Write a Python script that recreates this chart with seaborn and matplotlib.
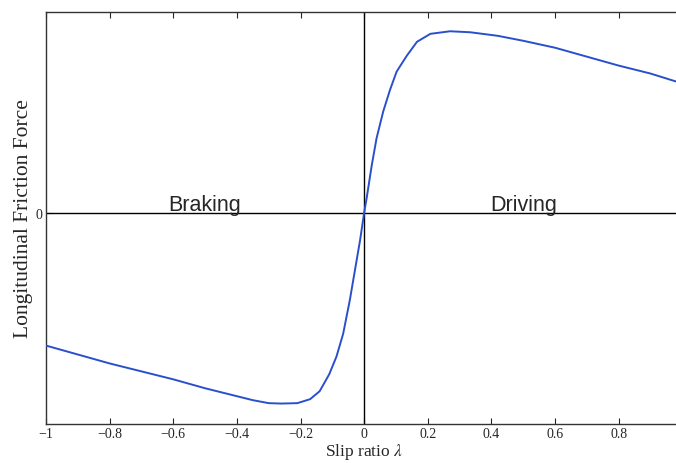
import numpy as np
import pandas as pd
import seaborn as sns
import matplotlib
matplotlib.use("Agg")
import matplotlib.pyplot as plt

# slip ratio and normalised longitudinal friction force
slip = [-1.0, -0.9, -0.8, -0.7, -0.6, -0.5, -0.4, -0.35, -0.3, -0.26, -0.21,
        -0.17, -0.14, -0.11, -0.087, -0.066, -0.045, -0.029, -0.013, 0.0,
        0.008, 0.024, 0.039, 0.06, 0.081, 0.102, 0.134, 0.166, 0.208, 0.27,
        0.333, 0.42, 0.5, 0.6, 0.7, 0.8, 0.9, 0.98]
force = [-0.67, -0.715, -0.76, -0.80, -0.84, -0.885, -0.925, -0.945, -0.96,
         -0.962, -0.96, -0.94, -0.90, -0.815, -0.725, -0.61, -0.44, -0.29,
         -0.14, 0.0, 0.075, 0.24, 0.375, 0.51, 0.617, 0.71, 0.79, 0.86, 0.90,
         0.913, 0.908, 0.89, 0.865, 0.83, 0.785, 0.74, 0.70, 0.66]
xticks = [-1, -0.8, -0.6, -0.4, -0.2, 0, 0.2, 0.4, 0.6, 0.8]
xticklabels = ["\u22121", "\u22120.8", "\u22120.6", "\u22120.4", "\u22120.2",
               "0", "0.2", "0.4", "0.6", "0.8"]

df = pd.DataFrame({"slip": slip, "force": force})

sns.set_style("ticks")
plt.rcParams["font.family"] = ["Liberation Serif", "DejaVu Serif"]
plt.rcParams["mathtext.fontset"] = "stix"

fig = plt.figure(figsize=(6.76, 4.64), dpi=100)
ax = fig.add_axes([46 / 676, 39 / 464, 630 / 676, 412 / 464])

ax.axhline(0, color="black", lw=1.0, zorder=1)
ax.axvline(0, color="black", lw=1.0, zorder=1)
sns.lineplot(data=df, x="slip", y="force", ax=ax, color="#2a4fcc", lw=1.4,
             zorder=3)

ax.set_xlim(-1, 0.98)
ax.set_ylim(-1.065, 1.01)
ax.set_xticks(xticks)
ax.set_xticklabels(xticklabels)
ax.set_yticks([0])
ax.set_yticklabels(["0"])
ax.tick_params(direction="in", length=4, width=0.8, labelsize=10,
               top=True, right=False, pad=2.5)
ax.spines["right"].set_visible(False)
for s in ["top", "bottom", "left"]:
    ax.spines[s].set_linewidth(1.0)
    ax.spines[s].set_color("#333333")

ax.set_xlabel("Slip ratio $\\lambda$", fontsize=12.5, va="bottom")
ax.xaxis.set_label_coords(0.505, -37 / 412)
ax.set_ylabel("Longitudinal Friction Force", fontsize=15.5, labelpad=2)

ax.text(-0.502, 0.015, "Braking", family=["Liberation Sans", "DejaVu Sans"],
        fontsize=15.5, ha="center", va="baseline")
ax.text(0.502, 0.015, "Driving", family=["Liberation Sans", "DejaVu Sans"],
        fontsize=15.5, ha="center", va="baseline")

fig.savefig("out.png", dpi=100)
